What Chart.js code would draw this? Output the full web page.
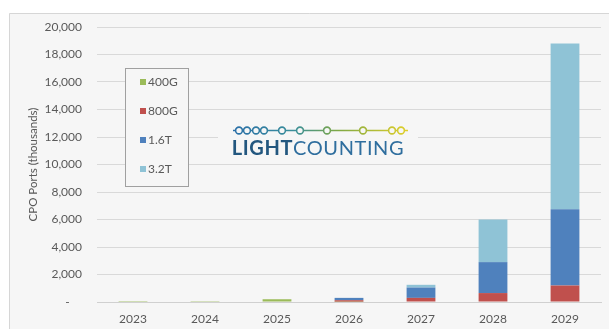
<!DOCTYPE html>
<html>
<head>
<meta charset="utf-8">
<script src="https://cdn.jsdelivr.net/npm/chart.js@4.4.1/dist/chart.umd.min.js"></script>
<style>
  html, body { margin: 0; padding: 0; background: #ffffff; }
  #grafico { display: block; }
</style>
</head>
<body>
<canvas id="grafico" width="609" height="329"></canvas>
<script>
const anos = ["2023", "2024", "2025", "2026", "2027", "2028", "2029"];
const portas400G = [5, 10, 200, 20, 0, 0, 0];
const portas800G = [0, 0, 0, 110, 300, 650, 1200];
const portas1_6T = [0, 0, 0, 170, 750, 2250, 5550];
const portas3_2T = [0, 0, 0, 0, 200, 3100, 12050];
const ticksY = [0, 2000, 4000, 6000, 8000, 10000, 12000, 14000, 16000, 18000, 20000];

const corFundo = "#f6f6f6";
const corTexto = "#595959";
const fonte = "Lato, 'Open Sans', sans-serif";

// moldura cinza do quadro
const moldura = {
  id: "moldura",
  beforeDraw(chart) {
    const ctx = chart.ctx;
    ctx.save();
    ctx.fillStyle = "#ffffff";
    ctx.fillRect(0, 0, chart.width, chart.height);
    ctx.fillStyle = corFundo;
    ctx.fillRect(9, 13, chart.width, chart.height);
    ctx.strokeStyle = "#d6d6d6";
    ctx.lineWidth = 1;
    ctx.beginPath();
    ctx.moveTo(9.5, chart.height);
    ctx.lineTo(9.5, 13.5);
    ctx.lineTo(chart.width, 13.5);
    ctx.stroke();
    ctx.restore();
  }
};

// legenda em caixa dentro da area do grafico
const legendaCaixa = {
  id: "legendaCaixa",
  afterDraw(chart) {
    const ctx = chart.ctx;
    ctx.save();
    ctx.fillStyle = corFundo;
    ctx.fillRect(125, 68, 63, 118);
    ctx.strokeStyle = "#a0a0a0";
    ctx.lineWidth = 1;
    ctx.strokeRect(125.5, 68.5, 63, 118);
    ctx.font = "12px " + fonte;
    ctx.textBaseline = "middle";
    ctx.textAlign = "left";
    chart.data.datasets.forEach((ds, i) => {
      const y = 82 + i * 29;
      ctx.fillStyle = ds.backgroundColor;
      ctx.fillRect(140, y - 3, 6, 6);
      ctx.fillStyle = corTexto;
      ctx.fillText(ds.label, 148, y + 0.5);
    });
    ctx.restore();
  }
};

// logotipo LightCounting
const logotipo = {
  id: "logotipo",
  afterDraw(chart) {
    const ctx = chart.ctx;
    ctx.save();
    ctx.fillStyle = corFundo;
    ctx.fillRect(218, 118, 200, 42);

    const y = 130.5;
    const grad = ctx.createLinearGradient(233, 0, 408, 0);
    grad.addColorStop(0, "#2a6fa8");
    grad.addColorStop(0.35, "#3b8f9a");
    grad.addColorStop(0.6, "#7fa845");
    grad.addColorStop(1, "#e0cf2a");
    ctx.strokeStyle = grad;
    ctx.lineWidth = 1.6;
    ctx.beginPath();
    ctx.moveTo(233, y);
    ctx.lineTo(408, y);
    ctx.stroke();
    const circulos = [239, 247, 256, 264, 282, 300, 327, 363, 392, 401];
    circulos.forEach(x => {
      ctx.beginPath();
      ctx.arc(x, y, 3.4, 0, Math.PI * 2);
      ctx.fillStyle = corFundo;
      ctx.fill();
      ctx.stroke();
    });

    ctx.textBaseline = "middle";
    ctx.textAlign = "left";
    ctx.letterSpacing = "0.6px";
    ctx.font = "bold 20px " + fonte;
    const parte1 = "LIGHT";
    const w1 = ctx.measureText(parte1).width;
    ctx.font = "20px " + fonte;
    const w2 = ctx.measureText("COUNTING").width;
    const x0 = 318 - (w1 + w2) / 2;
    ctx.font = "bold 20px " + fonte;
    ctx.fillStyle = "#23577f";
    ctx.fillText(parte1, x0, 149);
    ctx.font = "20px " + fonte;
    ctx.fillStyle = "#2f6e9e";
    ctx.fillText("COUNTING", x0 + w1, 149);
    ctx.restore();
  }
};

new Chart(document.getElementById("grafico").getContext("2d"), {
  type: "bar",
  data: {
    labels: anos,
    datasets: [
      { label: "400G", data: portas400G, backgroundColor: "#9bbb59" },
      { label: "800G", data: portas800G, backgroundColor: "#c0504d" },
      { label: "1.6T", data: portas1_6T, backgroundColor: "#4f81bd" },
      { label: "3.2T", data: portas3_2T, backgroundColor: "#8fc3d6" }
    ]
  },
  options: {
    responsive: false,
    animation: false,
    layout: { padding: { top: 27, right: 8, bottom: 0, left: 0 } },
    datasets: { bar: { barPercentage: 0.4, categoryPercentage: 1 } },
    plugins: {
      legend: { display: false },
      tooltip: { enabled: false }
    },
    scales: {
      x: {
        stacked: true,
        grid: { display: false, drawTicks: false },
        border: { display: true, color: "#d0d0d0" },
        ticks: { color: corTexto, font: { family: fonte, size: 12 }, padding: 10 },
        afterFit: (s) => { s.height = 27; }
      },
      y: {
        stacked: true,
        min: 0,
        max: 20000,
        afterBuildTicks: (s) => { s.ticks = ticksY.map(v => ({ value: v })); },
        grid: { color: "#d9d9d9", drawTicks: false },
        border: { display: false },
        ticks: {
          color: corTexto,
          font: { family: fonte, size: 12 },
          padding: 15,
          callback: (v) => v === 0 ? "-    " : v.toLocaleString("en-US")
        },
        title: {
          display: true,
          text: "CPO Ports (thousands)",
          color: corTexto,
          font: { family: fonte, size: 11.5 },
          padding: { top: 26, bottom: 0 }
        },
        afterFit: (s) => { s.width = 97; }
      }
    }
  },
  plugins: [moldura, legendaCaixa, logotipo]
});
</script>
</body>
</html>
